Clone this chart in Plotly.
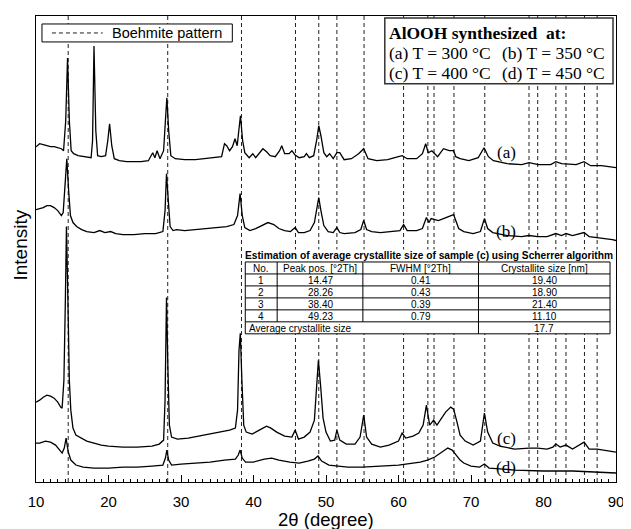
import plotly.graph_objects as go

# The page body adds an 8px margin, so the figure is drawn 8px smaller and all
# layout positions below are given in screen pixels of the 631x529 window.
OFF = 8
W, H = 631 - OFF, 529 - OFF
PX0, PX1, PY0, PY1 = 36, 618, 15, 482          # plot area in screen pixels
L, T = PX0 - OFF, PY0 - OFF
R, B = W - (PX1 - OFF), H - (PY1 - OFF)
PW, PH = PX1 - PX0, PY1 - PY0


def px(xp):
    return (xp - PX0) / PW


def py(yp):
    return (PY1 - yp) / PH


# ---------------- data ----------------
boehmite_pos = [14.44, 28.17, 38.34, 45.79, 49.0, 51.5, 55.25, 60.7, 64.05, 64.9,
                67.65, 71.9, 78.0, 79.2, 81.7, 83.1, 85.65, 87.4]

curve_a = [(10.0, 336), (10.5, 339), (11.0, 338), (11.5, 337), (12.0, 336), (12.5, 336), (13.0, 335),
           (13.5, 334), (13.8, 332), (14.1, 362), (14.35, 425), (14.6, 362), (14.85, 332), (15.2, 329),
           (15.8, 327), (16.5, 326), (17.2, 325), (17.6, 325), (17.8, 342), (18.0, 437), (18.25, 352),
           (18.5, 327), (19.0, 326), (19.6, 327), (19.9, 342), (20.15, 359), (20.45, 337), (20.8, 324),
           (21.5, 322), (22.5, 321), (23.5, 321), (24.5, 321), (25.5, 322), (26.1, 330), (26.4, 325),
           (26.7, 332), (27.1, 324), (27.6, 332), (27.85, 362), (28.05, 385), (28.3, 352), (28.6, 327),
           (29.2, 324), (30.5, 323), (32.0, 323), (33.5, 324), (35.0, 325), (35.6, 326), (36.0, 339),
           (36.3, 337), (36.7, 332), (37.1, 336), (37.45, 344), (37.75, 337), (38.0, 354), (38.2, 367),
           (38.5, 342), (38.8, 330), (39.4, 325), (39.9, 329), (40.3, 325), (40.8, 329), (41.3, 334),
           (41.8, 331), (42.3, 327), (43.0, 326), (43.6, 332), (43.9, 337), (44.3, 329), (44.9, 329),
           (45.3, 332), (45.7, 328), (46.3, 325), (47.0, 326), (47.3, 329), (47.7, 325), (48.3, 327),
           (48.7, 342), (49.0, 357), (49.3, 347), (49.7, 330), (50.1, 326), (50.5, 329), (51.0, 324),
           (51.5, 330), (51.9, 330), (52.5, 323), (53.5, 324), (54.5, 329), (55.2, 334), (55.8, 324),
           (57.0, 322), (58.5, 323), (60.0, 326), (60.5, 327), (61.2, 324), (62.5, 324), (63.3, 329),
           (63.75, 339), (64.1, 330), (64.6, 332), (65.0, 329), (65.4, 326), (66.2, 334), (67.0, 332),
           (67.6, 332), (67.9, 326), (68.5, 324), (69.7, 322), (71.0, 325), (71.8, 335), (72.4, 326),
           (73.1, 322), (75.0, 319), (77.0, 318), (78.0, 320), (79.3, 318), (81.0, 318), (81.7, 321),
           (82.5, 319), (84.5, 318), (85.6, 321), (86.5, 317), (88.0, 317), (90.0, 315)]

curve_b = [(10.0, 273), (10.5, 274), (11.0, 275), (11.5, 277), (12.0, 277), (12.5, 275), (13.0, 272),
           (13.5, 267), (13.75, 270), (14.0, 297), (14.25, 324), (14.5, 292), (14.75, 267), (15.1, 260),
           (15.6, 256), (16.3, 253), (17.0, 251), (18.0, 250), (18.8, 252), (19.5, 250), (20.3, 251),
           (21.0, 249), (22.0, 248), (23.5, 248), (25.0, 249), (26.5, 249), (27.5, 251), (27.8, 272),
           (28.0, 309), (28.25, 282), (28.5, 256), (28.9, 252), (29.4, 253), (30.5, 252), (32.0, 253),
           (33.5, 254), (35.0, 255), (36.3, 256), (37.3, 258), (37.8, 267), (38.15, 289), (38.45, 267),
           (38.8, 255), (39.5, 252), (40.3, 254), (41.2, 257), (42.0, 260), (42.8, 258), (43.5, 254),
           (44.3, 252), (45.1, 251), (45.75, 255), (46.2, 250), (47.0, 250), (47.8, 252), (48.4, 260),
           (48.7, 275), (49.0, 285), (49.3, 272), (49.7, 257), (50.3, 251), (51.0, 250), (51.5, 255),
           (51.9, 250), (52.5, 249), (54.0, 250), (54.8, 253), (55.2, 262), (55.6, 253), (56.3, 251),
           (57.5, 250), (59.0, 251), (60.2, 252), (60.7, 258), (61.2, 252), (62.5, 252), (63.3, 254),
           (63.85, 265), (64.2, 260), (64.5, 264), (64.9, 263), (65.5, 262), (66.2, 264), (66.9, 266),
           (67.6, 268), (68.0, 260), (68.3, 254), (69.0, 251), (70.3, 249), (71.3, 251), (71.85, 264),
           (72.3, 254), (73.0, 250), (75.0, 247), (77.0, 246), (78.0, 247), (79.2, 246), (80.5, 246),
           (81.7, 249), (82.5, 247), (83.1, 249), (84.0, 247), (85.6, 250), (86.3, 246), (87.5, 245),
           (89.5, 243), (90.0, 242)]

curve_c = [(10.0, 80), (10.5, 82), (11.0, 85), (11.5, 87), (12.0, 86), (12.5, 84), (13.0, 80),
           (13.4, 75), (13.6, 74), (13.85, 102), (14.05, 182), (14.2, 256), (14.4, 182), (14.6, 102),
           (14.8, 72), (15.1, 54), (15.5, 47), (16.0, 45), (17.0, 41), (18.0, 39), (19.0, 37), (20.0, 36),
           (22.0, 35), (24.0, 35), (26.0, 36), (27.0, 38), (27.6, 42), (27.8, 82), (28.0, 185), (28.2, 112),
           (28.4, 57), (28.7, 45), (29.5, 43), (31.0, 44), (32.5, 46), (34.0, 48), (35.5, 50), (36.7, 52),
           (37.5, 54), (37.8, 72), (38.0, 132), (38.18, 149), (38.4, 102), (38.65, 57), (39.0, 50),
           (39.8, 48), (40.8, 52), (41.8, 56), (42.4, 54), (43.2, 50), (44.3, 46), (45.3, 45), (45.75, 52),
           (46.2, 43), (47.0, 45), (47.8, 50), (48.4, 62), (48.7, 97), (48.95, 122), (49.25, 97),
           (49.6, 64), (50.0, 50), (50.6, 41), (51.2, 42), (51.5, 52), (51.9, 42), (52.8, 38), (54.0, 38),
           (54.7, 45), (55.2, 67), (55.6, 45), (56.3, 38), (57.5, 35), (58.7, 37), (60.0, 41), (60.5, 49),
           (61.0, 44), (62.0, 46), (62.8, 49), (63.4, 57), (63.85, 77), (64.3, 57), (64.85, 62), (65.3, 57),
           (65.8, 62), (66.5, 70), (67.2, 75), (67.6, 73), (68.0, 62), (68.5, 47), (69.2, 41), (70.3, 37),
           (71.3, 41), (71.85, 69), (72.3, 50), (73.0, 39), (74.0, 36), (76.0, 33), (78.0, 34), (79.2, 34),
           (80.5, 33), (81.3, 35), (81.7, 38), (82.3, 35), (83.1, 37), (84.0, 33), (85.6, 40), (86.3, 33),
           (87.4, 33), (89.0, 31), (90.0, 30)]

curve_d = [(10.0, 39), (10.5, 39), (11.3, 41), (12.0, 40), (12.7, 37), (13.3, 32), (13.6, 29), (13.9, 34),
           (14.15, 44), (14.45, 30), (14.8, 22), (15.5, 17), (16.5, 15), (18.0, 14), (20.0, 14), (22.0, 15),
           (24.0, 15), (26.0, 16), (27.5, 17), (27.85, 24), (28.05, 32), (28.3, 22), (28.7, 17), (30.0, 18),
           (32.0, 19), (34.0, 20), (36.0, 22), (37.5, 23), (37.9, 27), (38.15, 32), (38.45, 24), (38.9, 20),
           (40.0, 20), (41.5, 23), (42.5, 24), (43.5, 22), (45.0, 20), (46.3, 19), (47.5, 21), (48.4, 23),
           (48.9, 26), (49.4, 21), (50.4, 17), (51.5, 16), (53.0, 15), (55.0, 15), (57.0, 16), (60.0, 17),
           (62.0, 19), (63.0, 20), (64.0, 22), (65.0, 25), (66.0, 30), (66.8, 34), (67.4, 32), (67.9, 27),
           (68.5, 22), (69.0, 19), (70.0, 16), (71.2, 15), (71.85, 18), (72.5, 14), (74.0, 13), (76.0, 12),
           (80.0, 11), (84.0, 11), (87.0, 10), (90.0, 9)]

curve_labels = ["(a)", "(b)", "(c)", "(d)"]
temps = ["300", "350", "400", "450"]

table_title = "Estimation of average crystallite size of sample (c) using Scherrer algorithm"
table_header = ["No.", "Peak pos. [°2Th]", "FWHM [°2Th]", "Crystallite size [nm]"]
peak_no = ["1", "2", "3", "4"]
peak_pos = ["14.47", "28.26", "38.40", "49.23"]
fwhm = ["0.41", "0.43", "0.39", "0.79"]
cryst_size = ["19.40", "18.90", "21.40", "11.10"]
avg_label = "Average crystallite size"
avg_size = "17.7"

# ---------------- figure ----------------
YMAX = 467
fig = go.Figure()

dx, dy = [], []
for p in boehmite_pos:
    dx += [p, p, None]
    dy += [0, YMAX, None]
fig.add_trace(go.Scatter(x=dx, y=dy, mode="lines",
                         line=dict(color="#222222", width=1, dash="4px,3px"),
                         showlegend=False, hoverinfo="skip"))

for pts in (curve_a, curve_b, curve_c, curve_d):
    fig.add_trace(go.Scatter(x=[p[0] for p in pts], y=[p[1] for p in pts], mode="lines",
                             line=dict(color="black", width=1.3), showlegend=False))

shapes = []
ann = []
SANS = "Liberation Sans"
SERIF = "Liberation Serif"


def rect(x0, y0, x1, y1, lc="black", lw=1, fill=None):
    d = dict(type="rect", xref="paper", yref="paper", x0=px(x0), x1=px(x1), y0=py(y1), y1=py(y0),
             line=dict(color=lc, width=lw), layer="above")
    if fill:
        d["fillcolor"] = fill
    if lw == 0:
        d["line"] = dict(width=0)
    shapes.append(d)


def hline(x0, x1, y, lc="black", lw=1, dash=None):
    d = dict(type="line", xref="paper", yref="paper", x0=px(x0), x1=px(x1), y0=py(y), y1=py(y),
             line=dict(color=lc, width=lw), layer="above")
    if dash:
        d["line"]["dash"] = dash
    shapes.append(d)


def vline(x, y0, y1, lc="black", lw=1):
    shapes.append(dict(type="line", xref="paper", yref="paper", x0=px(x), x1=px(x), y0=py(y0), y1=py(y1),
                       line=dict(color=lc, width=lw), layer="above"))


def text(t, x, y, size, font=SANS, xanchor="center", angle=0, color="black"):
    ann.append(dict(text=t, x=px(x), y=py(y), xref="paper", yref="paper", xanchor=xanchor, yanchor="middle",
                    showarrow=False, textangle=angle, font=dict(family=font, size=size, color=color)))


# legend box (top-left)
rect(42, 23, 233, 41, fill="white")
hline(52, 103, 32, lc="#222222", dash="4px,3px")
text("Boehmite pattern", 110, 32.5, 14.5, xanchor="left")

# info box (top-right)
rect(386, 17, 615, 83, lc="#333333", lw=1.5, fill="white")
text("<b>AlOOH synthesized&nbsp; at:</b>", 388, 32, 17.5, font=SERIF, xanchor="left")
tx = [388, 502, 388, 502]
ty = [52, 52, 72, 72]
for lab, t, x, y in zip(curve_labels, temps, tx, ty):
    text(f"{lab} T = {t} °C", x, y, 17.5, font=SERIF, xanchor="left")

# curve labels
for lab, y in zip(curve_labels, [152, 231, 438, 467]):
    text(lab, 508, y, 17, font=SERIF)

# table
TX = [246, 278, 364, 480, 612]
TY0, RH = 261.5, 12.0
rect(244, 249, 616, TY0 + 6 * RH, lw=0, fill="white")
text(f"<b>{table_title}</b>", 430, 255, 10.2)
rect(TX[0], TY0, TX[-1], TY0 + 6 * RH)
for k in range(1, 6):
    hline(TX[0], TX[-1], TY0 + k * RH)
for i in (1, 2):
    vline(TX[i], TY0, TY0 + 5 * RH)
vline(TX[3], TY0, TY0 + 6 * RH)
centers = [(TX[i] + TX[i + 1]) / 2 for i in range(4)]
for c, h in zip(centers, table_header):
    text(h, c, TY0 + RH / 2 + 0.5, 10)
for r, row in enumerate(zip(peak_no, peak_pos, fwhm, cryst_size)):
    for c, v in zip(centers, row):
        text(v, c, TY0 + (r + 1.5) * RH + 0.5, 10)
text(avg_label, TX[0] + 2, TY0 + 5.5 * RH + 0.5, 10, xanchor="left")
text(avg_size, centers[3], TY0 + 5.5 * RH + 0.5, 10)

# axis titles
text("Intensity", 20, 245, 19, angle=-90)
text("2θ (degree)", 327, 520, 18.5)

fig.update_layout(
    width=W, height=H, margin=dict(l=L, r=R, t=T, b=B),
    paper_bgcolor="white", plot_bgcolor="white",
    shapes=shapes, annotations=ann, showlegend=False,
    xaxis=dict(range=[10, 90], tick0=10, dtick=10, ticks="inside", ticklen=7, tickwidth=1,
               tickcolor="black", showline=True, linecolor="black", linewidth=1, mirror=True,
               showgrid=False, zeroline=False, ticklabelstandoff=6,
               tickfont=dict(family=SANS, size=15, color="black"),
               minor=dict(dtick=1, ticks="inside", ticklen=3.5, tickcolor="black", showgrid=False)),
    yaxis=dict(range=[0, YMAX], showticklabels=False, ticks="", showline=True, linecolor="black",
               linewidth=1, mirror=True, showgrid=False, zeroline=False),
)

fig.write_html("out.html")
